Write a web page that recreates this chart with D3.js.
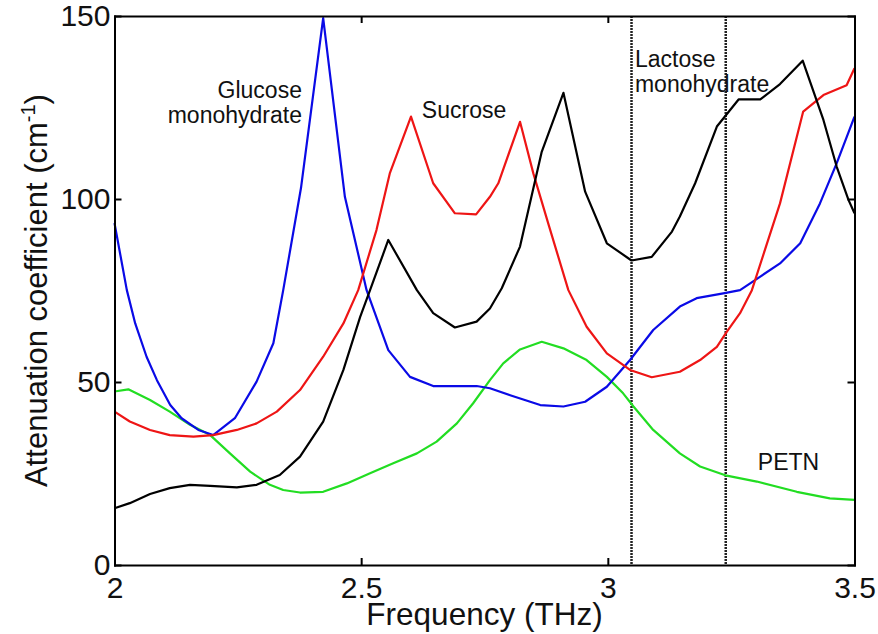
<!DOCTYPE html>
<html>
<head>
<meta charset="utf-8">
<script src="https://cdn.jsdelivr.net/npm/d3@7"></script>
<style>
  body { margin: 0; background: #fff; }
  text { font-family: "Liberation Sans", Arial, sans-serif; fill: #111; }
</style>
</head>
<body>
<svg width="878" height="634"></svg>
<script>
// THz frequency / attenuation (cm^-1) pairs
const glucose = [
  [2.0, 93.4], [2.025, 75.1], [2.042, 66.0], [2.065, 56.9], [2.086, 50.5], [2.113, 43.7],
  [2.136, 40.1], [2.17, 36.9], [2.2, 35.5], [2.244, 40.1], [2.288, 50.1], [2.322, 60.6],
  [2.342, 75.1], [2.378, 103.0], [2.423, 149.4], [2.467, 100.6], [2.511, 75.1], [2.555, 58.7],
  [2.599, 51.4], [2.646, 48.9], [2.694, 48.9], [2.734, 48.9], [2.761, 48.3], [2.802, 46.4],
  [2.863, 43.7], [2.91, 43.3], [2.954, 44.6], [2.998, 48.7], [3.045, 56.0], [3.092, 64.2],
  [3.146, 70.6], [3.18, 72.9], [3.234, 74.2], [3.268, 75.1], [3.309, 78.8], [3.349, 82.4],
  [3.39, 87.9], [3.43, 98.8], [3.464, 109.8], [3.5, 122.5]
];
const sucrose = [
  [2.0, 41.9], [2.031, 39.2], [2.072, 36.9], [2.112, 35.5], [2.16, 35.1], [2.2, 35.5],
  [2.248, 36.9], [2.288, 38.7], [2.329, 41.9], [2.376, 47.8], [2.423, 56.9], [2.464, 66.0],
  [2.494, 75.1], [2.531, 91.5], [2.558, 107.0], [2.601, 122.5], [2.646, 104.3], [2.69, 96.1],
  [2.733, 95.8], [2.761, 100.6], [2.778, 104.3], [2.822, 121.1], [2.849, 107.0], [2.879, 93.4],
  [2.92, 75.1], [2.957, 65.1], [2.998, 57.8], [3.045, 53.3], [3.089, 51.3], [3.146, 52.8],
  [3.187, 56.0], [3.221, 59.6], [3.241, 63.7], [3.268, 68.8], [3.292, 75.1], [3.349, 98.8],
  [3.396, 123.9], [3.437, 128.4], [3.484, 131.1], [3.5, 135.7]
];
const lactose = [
  [2.0, 15.5], [2.031, 16.9], [2.072, 19.4], [2.112, 21.0], [2.153, 21.9], [2.194, 21.6],
  [2.248, 21.2], [2.288, 21.9], [2.335, 24.6], [2.376, 29.6], [2.423, 39.2], [2.464, 53.3],
  [2.498, 67.8], [2.518, 75.1], [2.555, 88.8], [2.613, 75.1], [2.646, 68.8], [2.69, 64.9],
  [2.734, 66.5], [2.761, 70.1], [2.785, 75.6], [2.822, 87.0], [2.866, 112.9], [2.91, 129.0],
  [2.954, 102.0], [2.998, 87.9], [3.048, 83.2], [3.089, 84.2], [3.13, 91.1], [3.146, 95.2],
  [3.177, 104.3], [3.221, 119.8], [3.265, 127.2], [3.309, 127.2], [3.349, 131.4], [3.395, 137.8],
  [3.437, 121.6], [3.464, 108.8], [3.488, 99.7], [3.5, 96.1]
];
const petn = [
  [2.0, 47.4], [2.028, 48.0], [2.072, 45.1], [2.112, 41.9], [2.153, 38.3], [2.194, 35.5],
  [2.234, 30.5], [2.275, 25.5], [2.315, 21.9], [2.342, 20.5], [2.376, 19.8], [2.423, 20.0],
  [2.471, 22.3], [2.518, 25.1], [2.565, 27.8], [2.613, 30.5], [2.653, 33.7], [2.694, 38.7],
  [2.727, 44.2], [2.761, 50.5], [2.788, 55.1], [2.822, 58.9], [2.866, 61.0], [2.91, 59.2],
  [2.957, 56.0], [2.998, 51.4], [3.031, 46.9], [3.052, 43.3], [3.092, 36.9], [3.146, 30.5],
  [3.187, 26.9], [3.241, 24.4], [3.302, 22.8], [3.383, 20.0], [3.45, 18.2], [3.5, 17.8]
];
const markerFreqs = [3.048, 3.239];
const xTicks = [2, 2.5, 3, 3.5];
const xTickLabels = ["2", "2.5", "3", "3.5"];
const yTicks = [0, 50, 100, 150];
const yTickLabels = ["0", "50", "100", "150"];

const svg = d3.select("svg");
const plotLeft = 114.5, plotRight = 854.5, plotTop = 16, plotBottom = 565;

const x = d3.scaleLinear().domain([2, 3.5]).range([plotLeft, plotRight]);
const y = d3.scaleLinear().domain([0, 150]).range([plotBottom, plotTop]);

// dotted marker lines for lactose features
svg.selectAll(".marker")
  .data(markerFreqs)
  .join("line")
  .attr("class", "marker")
  .attr("x1", (d) => x(d)).attr("x2", (d) => x(d))
  .attr("y1", plotTop).attr("y2", plotBottom)
  .attr("stroke", "#222")
  .attr("stroke-width", 2.5)
  .attr("stroke-dasharray", "2,1");

const line = d3.line().x((d) => x(d[0])).y((d) => y(d[1]));

const series = [
  { data: petn, color: "#22dd22" },
  { data: glucose, color: "#0a0ae6" },
  { data: sucrose, color: "#ee1515" },
  { data: lactose, color: "#000" }
];

svg.selectAll(".curve")
  .data(series)
  .join("path")
  .attr("class", "curve")
  .attr("d", (d) => line(d.data))
  .attr("fill", "none")
  .attr("stroke", (d) => d.color)
  .attr("stroke-width", 2.2)
  .attr("stroke-linejoin", "round");

// axes, MATLAB style with inward ticks and a full box
function styleAxis(g) {
  g.selectAll("path, line").attr("stroke", "#000").attr("stroke-width", 2);
  g.selectAll("text")
    .style("font-family", '"Liberation Sans", Arial, sans-serif')
    .style("font-size", "30px")
    .attr("fill", "#111");
}

svg.append("g")
  .attr("transform", `translate(0,${plotBottom})`)
  .call(d3.axisBottom(x).tickValues(xTicks).tickFormat((d, i) => xTickLabels[i])
    .tickSize(-7).tickSizeOuter(0).tickPadding(12))
  .call(styleAxis);

svg.append("g")
  .attr("transform", `translate(0,${plotTop})`)
  .call(d3.axisTop(x).tickValues(xTicks).tickFormat("")
    .tickSize(-7).tickSizeOuter(0))
  .call(styleAxis);

svg.append("g")
  .attr("transform", `translate(${plotLeft},0)`)
  .call(d3.axisLeft(y).tickValues(yTicks).tickFormat((d, i) => yTickLabels[i])
    .tickSize(-7).tickSizeOuter(0).tickPadding(4))
  .call(styleAxis);

svg.append("g")
  .attr("transform", `translate(${plotRight},0)`)
  .call(d3.axisRight(y).tickValues(yTicks).tickFormat("")
    .tickSize(-7).tickSizeOuter(0))
  .call(styleAxis);

svg.selectAll(".domain").attr("stroke-linecap", "square");

// axis titles
svg.append("text")
  .attr("x", (plotLeft + plotRight) / 2)
  .attr("y", 625)
  .attr("text-anchor", "middle")
  .style("font-size", "31.5px")
  .text("Frequency (THz)");

const yTitle = svg.append("text")
  .attr("transform", `translate(47,${(plotTop + plotBottom) / 2}) rotate(-90)`)
  .attr("text-anchor", "middle")
  .style("font-size", "31px");
yTitle.append("tspan").text("Attenuation coefficient (cm");
yTitle.append("tspan").attr("dy", -12).style("font-size", "20px").text("-1");
yTitle.append("tspan").attr("dy", 12).text(")");

// curve annotations
const annotate = (lines, fx, vy, anchor) => {
  const t = svg.append("text")
    .attr("text-anchor", anchor)
    .style("font-size", "23px");
  lines.forEach((s, i) => {
    t.append("tspan")
      .attr("x", x(fx))
      .attr("y", y(vy) + i * 25)
      .text(s);
  });
};
annotate(["Glucose", "monohydrate"], 2.38, 127.6, "end");
annotate(["Sucrose"], 2.623, 122.1, "start");
annotate(["Lactose", "monohydrate"], 3.055, 136.1, "start");
annotate(["PETN"], 3.304, 26, "start");
</script>
</body>
</html>
